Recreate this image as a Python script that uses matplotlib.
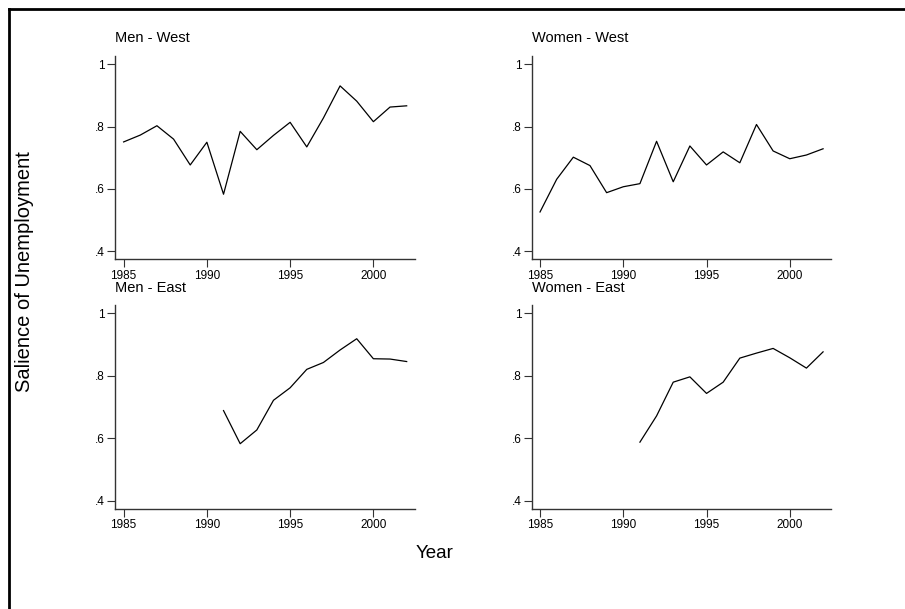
import matplotlib
matplotlib.use("Agg")
import matplotlib.pyplot as plt
from matplotlib.lines import Line2D

plt.rcParams['font.family'] = ['Liberation Sans', 'DejaVu Sans']

years_west = list(range(1985, 2003))
years_east = list(range(1991, 2003))

men_west = [0.751, 0.773, 0.803, 0.760, 0.677, 0.750, 0.583, 0.785, 0.726,
            0.772, 0.814, 0.735, 0.828, 0.931, 0.882, 0.816, 0.863, 0.867]
women_west = [0.526, 0.631, 0.702, 0.675, 0.588, 0.607, 0.617, 0.753, 0.623,
              0.738, 0.677, 0.719, 0.684, 0.807, 0.722, 0.697, 0.709, 0.729]
men_east = [0.689, 0.583, 0.627, 0.722, 0.762, 0.821, 0.843, 0.883, 0.919,
            0.855, 0.854, 0.846]
women_east = [0.588, 0.672, 0.780, 0.797, 0.744, 0.780, 0.857, 0.873, 0.888,
              0.858, 0.825, 0.877]

panel_titles = ["Men - West", "Women - West", "Men - East", "Women - East"]
xticks = [1985, 1990, 1995, 2000]
yticks = [0.4, 0.6, 0.8, 1.0]
ytick_labels = [".4", ".6", ".8", "1"]

W, H = 905, 609
fig = plt.figure(figsize=(W / 100, H / 100), dpi=100)

def fx(px):
    return px / W

def fy(py):
    return 1 - py / H

panels = [
    (115.3, 56, 415, 259.3, 38, years_west, men_west, panel_titles[0]),
    (531.7, 56, 831.4, 259.3, 38, years_west, women_west, panel_titles[1]),
    (115.3, 305, 415, 509, 288, years_east, men_east, panel_titles[2]),
    (531.7, 305, 831.4, 509, 288, years_east, women_east, panel_titles[3]),
]

spine_col = '#333333'
for (x0, y0, x1, y1, ty, xs, ys, title) in panels:
    ax = fig.add_axes([fx(x0), fy(y1), fx(x1) - fx(x0), fy(y0) - fy(y1)])
    ax.plot(xs, ys, color='black', lw=0.9)
    ax.set_xlim(1984.5, 2002.5)
    ax.set_ylim(0.374, 1.027)
    ax.set_xticks(xticks)
    ax.set_xticklabels([str(t) for t in xticks])
    ax.set_yticks(yticks)
    ax.set_yticklabels(ytick_labels)
    for s in ['top', 'right']:
        ax.spines[s].set_visible(False)
    for s in ['left', 'bottom']:
        ax.spines[s].set_color(spine_col)
        ax.spines[s].set_linewidth(1.0)
    ax.tick_params(axis='both', direction='out', length=6, width=0.8,
                   color=spine_col, labelsize=8.5, pad=1.5)
    fig.text(fx(x0), fy(ty), title, fontsize=10.5, ha='left', va='center')

fig.text(fx(24), fy(272), "Salience of Unemployment", rotation=90,
         fontsize=14.5, ha='center', va='center')
fig.text(fx(435), fy(553), "Year", fontsize=13.5, ha='center', va='center')

# outer frame lines (left and top)
fig.add_artist(Line2D([fx(9), fx(9)], [fy(9), 0], color='black', lw=2,
                      transform=fig.transFigure))
fig.add_artist(Line2D([fx(9), 1], [fy(9), fy(9)], color='black', lw=2,
                      transform=fig.transFigure))

fig.savefig("out.png", dpi=100)
